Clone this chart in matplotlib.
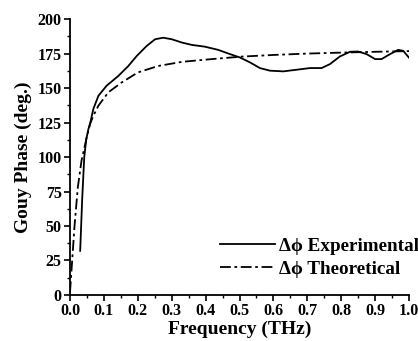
import matplotlib
matplotlib.use("Agg")
import matplotlib.pyplot as plt
from matplotlib.ticker import MultipleLocator

# Experimental Gouy phase
freq_exp = [0.030, 0.036, 0.042, 0.048, 0.054, 0.059, 0.069, 0.084, 0.108, 0.143, 0.172,
            0.197, 0.226, 0.251, 0.275, 0.300, 0.330, 0.359, 0.398, 0.437, 0.472, 0.501,
            0.531, 0.560, 0.590, 0.629, 0.669, 0.708, 0.742, 0.767, 0.796, 0.826, 0.850,
            0.875, 0.900, 0.919, 0.944, 0.968, 0.983, 1.000]
phase_exp = [32, 70, 100, 113, 120, 124, 135, 144.5, 151.7, 158.9, 166,
             173.3, 180.5, 185.4, 186.5, 185.4, 183, 181.3, 180, 177.7, 174.6, 172.2,
             168.6, 164.5, 162.6, 162.1, 163.3, 164.5, 164.5, 167.4, 172.9, 176.3, 176.5,
             174.6, 171, 171, 174.6, 177.7, 177, 172]

# Theoretical Gouy phase
freq_th = [0.0, 0.005, 0.013, 0.023, 0.034, 0.049, 0.059, 0.069, 0.084, 0.113, 0.152,
           0.2, 0.26, 0.33, 0.418, 0.506, 0.6, 0.7, 0.8, 0.9, 1.0]
phase_th = [2, 20, 49, 78, 97.5, 114, 124, 130, 137.3, 146.9, 154,
            161.3, 166, 169, 171, 172.8, 174, 175, 175.7, 176.3, 176.8]

plt.rcParams["font.family"] = ["Liberation Serif", "DejaVu Serif"]
plt.rcParams["font.weight"] = "bold"

fig = plt.figure(figsize=(4.18, 3.41), dpi=100)
ax = fig.add_axes([0.1675, 0.135, 0.811, 0.809])

ax.plot(freq_exp, phase_exp, color="black", lw=1.3, label="\u0394\u03d5 Experimental")
ax.plot(freq_th, phase_th, color="black", lw=1.3, dashes=(6, 2, 1.5, 2),
        label="\u0394\u03d5 Theoretical")

ax.set_xlim(0, 1.0)
ax.set_ylim(0, 200)
ax.xaxis.set_major_locator(MultipleLocator(0.1))
ax.xaxis.set_minor_locator(MultipleLocator(0.05))
ax.yaxis.set_major_locator(MultipleLocator(25))
ax.yaxis.set_minor_locator(MultipleLocator(12.5))
ax.tick_params(which="major", length=4, width=1.2, labelsize=11.5, pad=2)
ax.tick_params(which="minor", length=2, width=1)
for lab in ax.get_xticklabels() + ax.get_yticklabels():
    lab.set_fontweight("bold")

ax.spines["top"].set_visible(False)
ax.spines["right"].set_visible(False)
ax.spines["left"].set_linewidth(1.3)
ax.spines["bottom"].set_linewidth(1.3)

ax.set_xlabel("Frequency (THz)", fontsize=14, fontweight="bold", labelpad=1)
ax.set_ylabel("Gouy Phase (deg.)", fontsize=14, fontweight="bold", labelpad=4)

ax.legend(loc="lower right", bbox_to_anchor=(1.08, 0.0), frameon=False,
          handlelength=2.9, handletextpad=0.2, labelspacing=0.3,
          prop={"size": 13.75, "weight": "bold"})

fig.savefig("out.png", dpi=100)
